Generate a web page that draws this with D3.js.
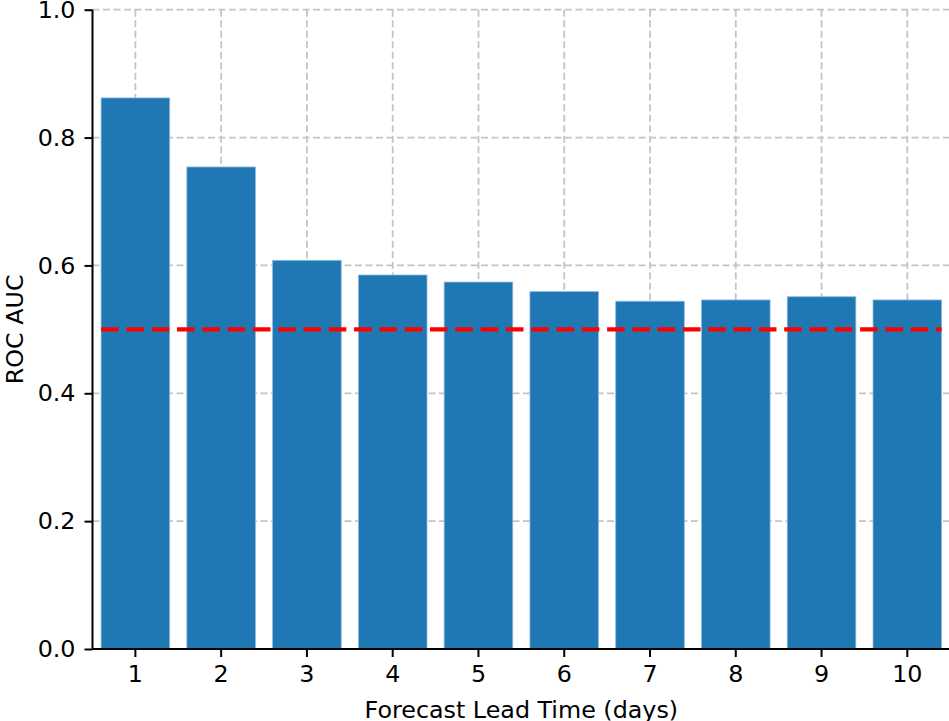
<!DOCTYPE html>
<html>
<head>
<meta charset="utf-8">
<script src="https://cdn.jsdelivr.net/npm/d3@7"></script>
<style>
  body { margin: 0; background: white; overflow: hidden; }
  svg { display: block; font-family: "DejaVu Sans", sans-serif; }
</style>
</head>
<body>
<svg id="chart"></svg>
<script>
let width = 949;
let height = 721;

// lead time in days and ROC AUC per lead time
let leadDays = [1, 2, 3, 4, 5, 6, 7, 8, 9, 10];
let rocAuc = [0.862, 0.754, 0.608, 0.585, 0.574, 0.559, 0.544, 0.546, 0.551, 0.546];
let baseline = 0.5;
let yTicks = [0.0, 0.2, 0.4, 0.6, 0.8, 1.0];

let plotLeft = 92.5;
let plotRight = 950.2;
let plotTop = 9.7;
let plotBottom = 649;
let fontSize = "23.8px";

let svg = d3.select("svg#chart").attr("width", width).attr("height", height);

let xScale = d3.scaleBand()
  .domain(leadDays)
  .range([plotLeft, plotRight])
  .paddingInner(0.2)
  .paddingOuter(0.1);

let yScale = d3.scaleLinear().domain([0, 1]).range([plotBottom, plotTop]);

// grid
let grid = svg.append("g");
grid.selectAll("line.hgrid")
  .data(yTicks)
  .join("line")
  .attr("class", "hgrid")
  .attr("x1", plotLeft)
  .attr("x2", plotRight)
  .attr("y1", (d) => yScale(d))
  .attr("y2", (d) => yScale(d))
  .attr("stroke", "#c4c4c4")
  .attr("stroke-width", 1.8)
  .attr("stroke-dasharray", "7,3.5");

grid.selectAll("line.vgrid")
  .data(leadDays)
  .join("line")
  .attr("class", "vgrid")
  .attr("x1", (d) => xScale(d) + xScale.bandwidth() / 2)
  .attr("x2", (d) => xScale(d) + xScale.bandwidth() / 2)
  .attr("y1", plotTop)
  .attr("y2", plotBottom)
  .attr("stroke", "#c4c4c4")
  .attr("stroke-width", 1.8)
  .attr("stroke-dasharray", "7,3.5");

// bars
svg.append("g")
  .selectAll("rect")
  .data(rocAuc)
  .join("rect")
  .attr("x", (d, i) => xScale(leadDays[i]))
  .attr("width", xScale.bandwidth())
  .attr("y", (d) => yScale(d))
  .attr("height", (d) => yScale(0) - yScale(d))
  .attr("fill", "#1f77b4")
  .attr("stroke", "#8fbbe0")
  .attr("stroke-width", 0.8);

// random-guess reference line
svg.append("line")
  .attr("x1", xScale(leadDays[0]))
  .attr("x2", xScale(leadDays[leadDays.length - 1]) + xScale.bandwidth())
  .attr("y1", yScale(baseline))
  .attr("y2", yScale(baseline))
  .attr("stroke", "red")
  .attr("stroke-width", 4.2)
  .attr("stroke-dasharray", "17.6,7.7");

// axes
let xAxis = d3.axisBottom(xScale).tickSize(8).tickPadding(8);
let yAxis = d3.axisLeft(yScale).tickValues(yTicks).tickFormat(d3.format(".1f")).tickSize(8).tickPadding(9);

svg.append("g")
  .attr("transform", `translate(0, ${plotBottom})`)
  .call(xAxis)
  .call((g) => g.select(".domain").attr("d", `M${plotLeft},0H${plotRight}`))
  .call((g) => g.selectAll("path, line").attr("stroke", "#000").attr("stroke-width", 2))
  .call((g) => g.selectAll("text").attr("fill", "#000").style("font-size", fontSize).style("font-family", "DejaVu Sans"));

svg.append("g")
  .attr("transform", `translate(${plotLeft}, 0)`)
  .call(yAxis)
  .call((g) => g.select(".domain").attr("d", `M0,${plotTop}V${plotBottom}`))
  .call((g) => g.selectAll("path, line").attr("stroke", "#000").attr("stroke-width", 2))
  .call((g) => g.selectAll("text").attr("fill", "#000").style("font-size", fontSize).style("font-family", "DejaVu Sans"));

// axis labels
svg.append("text")
  .attr("x", (plotLeft + plotRight) / 2)
  .attr("y", 718)
  .attr("text-anchor", "middle")
  .style("font-size", fontSize)
  .text("Forecast Lead Time (days)");

svg.append("text")
  .attr("transform", `translate(23, ${(plotTop + plotBottom) / 2}) rotate(-90)`)
  .attr("text-anchor", "middle")
  .style("font-size", fontSize)
  .text("ROC AUC");
</script>
</body>
</html>
